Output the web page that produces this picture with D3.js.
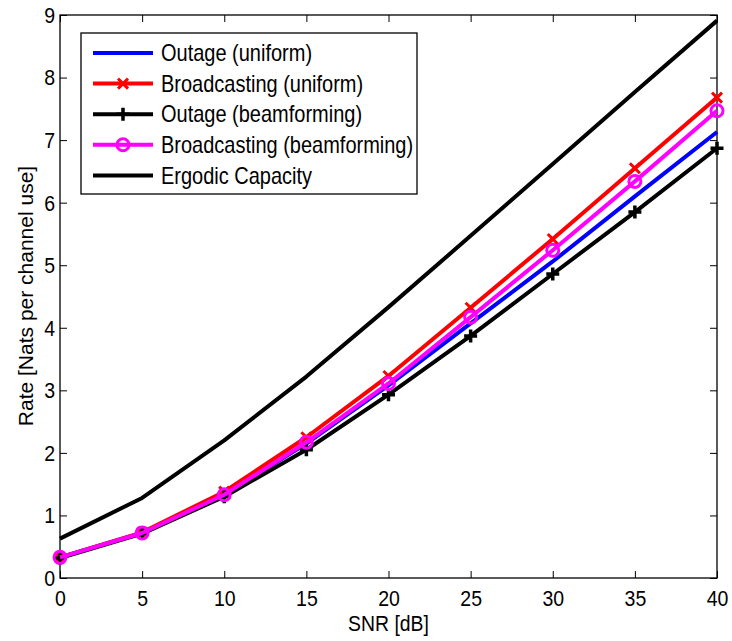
<!DOCTYPE html>
<html>
<head>
<meta charset="utf-8">
<script src="https://cdn.jsdelivr.net/npm/d3@7"></script>
<style>
  body { margin: 0; background: #fff; }
  text { font-family: "Liberation Sans", Arial, sans-serif; }
  /* the original figure was stretched vertically a little */
  .tall { transform-box: fill-box; transform-origin: center; transform: scaleY(1.17); }
</style>
</head>
<body>
<script>
// chart data
var snr = [0, 5, 10, 15, 20, 25, 30, 35, 40];
var outageUniform = [0.33, 0.72, 1.33, 2.15, 3.08, 4.07, 5.06, 6.1, 7.13];
var bcastUniform = [0.33, 0.73, 1.38, 2.25, 3.23, 4.32, 5.42, 6.55, 7.68];
var outageBeam = [0.32, 0.71, 1.3, 2.05, 2.93, 3.87, 4.86, 5.85, 6.87];
var bcastBeam = [0.33, 0.72, 1.33, 2.17, 3.11, 4.17, 5.24, 6.34, 7.47];
var ergodic = [0.63, 1.28, 2.2, 3.22, 4.33, 5.47, 6.62, 7.77, 8.91];
var xTicks = [0, 5, 10, 15, 20, 25, 30, 35, 40];
var yTicks = [0, 1, 2, 3, 4, 5, 6, 7, 8, 9];

var series = [
    {name: "Outage (uniform)", values: outageUniform, color: "#0000ff", marker: "none"},
    {name: "Broadcasting (uniform)", values: bcastUniform, color: "#ff0000", marker: "x"},
    {name: "Outage (beamforming)", values: outageBeam, color: "#000000", marker: "plus"},
    {name: "Broadcasting (beamforming)", values: bcastBeam, color: "#ff00ff", marker: "circle"},
    {name: "Ergodic Capacity", values: ergodic, color: "#000000", marker: "none"}
];

var W = 732, H = 641;
var margin = {top: 15, right: 15, bottom: 63, left: 60};
var plotW = W - margin.left - margin.right;
var plotH = H - margin.top - margin.bottom;

var svg = d3.select("body").append("svg")
    .attr("width", W)
    .attr("height", H);

var g = svg.append("g")
    .attr("transform", "translate(" + margin.left + "," + margin.top + ")");

var x = d3.scaleLinear().domain([0, 40]).range([0, plotW]);
var y = d3.scaleLinear().domain([0, 9]).range([plotH, 0]);

// axes with inward ticks on all four sides
var tickLen = 7;
g.append("g")
    .attr("transform", "translate(0," + plotH + ")")
    .call(d3.axisBottom(x).tickValues(xTicks).tickSizeInner(-tickLen).tickSizeOuter(0).tickPadding(13))
    .call(function (a) {
        a.select(".domain").remove();
        a.selectAll("text").attr("font-size", 19.5).attr("fill", "#000").attr("class", "tall");
    });
g.append("g")
    .call(d3.axisTop(x).tickValues(xTicks).tickSizeInner(-tickLen).tickSizeOuter(0).tickFormat(""))
    .call(function (a) { a.select(".domain").remove(); });
g.append("g")
    .call(d3.axisLeft(y).tickValues(yTicks).tickSizeInner(-tickLen).tickSizeOuter(0).tickPadding(5))
    .call(function (a) {
        a.select(".domain").remove();
        a.selectAll("text").attr("font-size", 19.5).attr("fill", "#000").attr("class", "tall");
    });
g.append("g")
    .attr("transform", "translate(" + plotW + ",0)")
    .call(d3.axisRight(y).tickValues(yTicks).tickSizeInner(-tickLen).tickSizeOuter(0).tickFormat(""))
    .call(function (a) { a.select(".domain").remove(); });

g.selectAll(".tick line").attr("stroke", "#000").attr("stroke-width", 1);

g.append("rect")
    .attr("width", plotW)
    .attr("height", plotH)
    .attr("fill", "none")
    .attr("stroke", "#000")
    .attr("stroke-width", 1.3);

// axis labels
svg.append("text")
    .attr("class", "tall")
    .attr("x", margin.left + plotW / 2)
    .attr("y", 630)
    .attr("text-anchor", "middle")
    .attr("font-size", 19.4)
    .text("SNR [dB]");

svg.append("text")
    .attr("transform", "translate(33,296) rotate(-90)")
    .attr("text-anchor", "middle")
    .attr("font-size", 21)
    .text("Rate [Nats per channel use]");

// markers
function drawMarker(sel, type, color) {
    if (type === "x") {
        var s = 5;
        sel.append("path")
            .attr("d", "M" + (-s) + "," + (-s) + "L" + s + "," + s + "M" + (-s) + "," + s + "L" + s + "," + (-s))
            .attr("stroke", color).attr("stroke-width", 3).attr("fill", "none");
    } else if (type === "plus") {
        var p = 6.5;
        sel.append("path")
            .attr("d", "M" + (-p) + ",0L" + p + ",0M0," + (-p) + "L0," + p)
            .attr("stroke", color).attr("stroke-width", 3.5).attr("fill", "none");
    } else if (type === "circle") {
        sel.append("circle")
            .attr("r", 6)
            .attr("stroke", color).attr("stroke-width", 3).attr("fill", "none");
    }
}

var line = d3.line()
    .x(function (d, i) { return x(snr[i]); })
    .y(function (d) { return y(d); });

var plotArea = g.append("g");

// draw in plotting order
series.forEach(function (s) {
    plotArea.append("path")
        .datum(s.values)
        .attr("d", line)
        .attr("fill", "none")
        .attr("stroke", s.color)
        .attr("stroke-width", 4)
        .attr("stroke-linejoin", "round");
    if (s.marker !== "none") {
        s.values.forEach(function (v, i) {
            var m = plotArea.append("g")
                .attr("transform", "translate(" + x(snr[i]) + "," + y(v) + ")");
            drawMarker(m, s.marker, s.color);
        });
    }
});

// legend
var legend = svg.append("g").attr("transform", "translate(81,33)");
legend.append("rect")
    .attr("width", 336)
    .attr("height", 161)
    .attr("fill", "#fff")
    .attr("stroke", "#000")
    .attr("stroke-width", 1.3);

series.forEach(function (s, i) {
    var row = legend.append("g").attr("transform", "translate(0," + (20 + i * 30.6) + ")");
    row.append("line")
        .attr("x1", 12).attr("x2", 72)
        .attr("stroke", s.color).attr("stroke-width", 4);
    if (s.marker !== "none") {
        var m = row.append("g").attr("transform", "translate(42,0)");
        drawMarker(m, s.marker, s.color);
    }
    row.append("text")
        .attr("class", "tall")
        .attr("x", 80)
        .attr("y", 0)
        .attr("dy", "0.35em")
        .attr("font-size", 20)
        .text(s.name);
});
</script>
</body>
</html>
